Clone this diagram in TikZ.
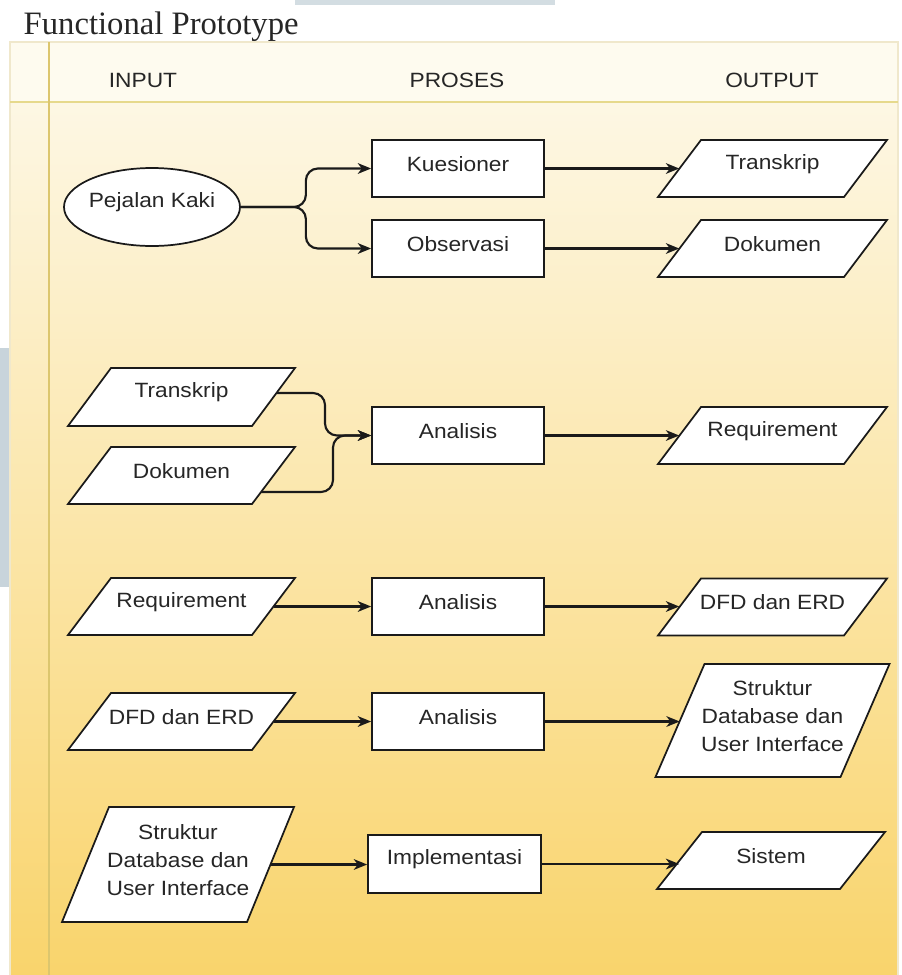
\documentclass[tikz,border=0pt]{standalone}
\usepackage{fontspec}
\setmainfont{Liberation Serif}
\newfontfamily\boxfam[FakeStretch=1.1]{Liberation Sans}
\usetikzlibrary{shapes.geometric,arrows.meta}
\definecolor{linec}{HTML}{1A1A1A}
\definecolor{txtc}{HTML}{262626}
\definecolor{hdrbg}{HTML}{FEFBEF}
\definecolor{bgtop}{HTML}{FDF7E4}
\definecolor{bgmid}{HTML}{FBE3A0}
\definecolor{bgbot}{HTML}{F9D46C}
\definecolor{sepc}{HTML}{E6D98C}
\definecolor{vlinec}{HTML}{DCC66E}
\definecolor{framec}{HTML}{F0E8CC}
\definecolor{scanblue}{HTML}{C8D4DB}
\newcommand\bfnt{\boxfam\fontsize{15.5pt}{21pt}\selectfont}
\newcommand\pgram[7]{%
  \draw[shapeline] ({#2-(#4+#6)/2},{#3+#5/2}) -- ({#2+(#4-#6)/2},{#3+#5/2}) -- ({#2+(#4+#6)/2},{#3-#5/2}) -- ({#2-(#4-#6)/2},{#3-#5/2}) -- cycle;
  \node[pgnode, minimum width=#4*0.75pt, minimum height=#5*0.75pt, label={[lbl]center:{#7}}] (#1) at (#2,#3) {};}
\begin{document}
\begin{tikzpicture}[x=0.75pt,y=-0.75pt,
  shapeline/.style={draw=linec, line width=1.3pt, fill=white},
  rectbox/.style={shapeline, rectangle, minimum width=172*0.75pt, minimum height=57*0.75pt, inner sep=0pt},
  pgnode/.style={rectangle, inner sep=0pt},
  lbl/.style={font=\bfnt, text=txtc, align=center, yshift=3.4pt},
  conn/.style={draw=linec, line width=1.6pt, -{Stealth[length=10pt,width=8pt,inset=3pt]}},
  hdr/.style={font=\bfnt, text=txtc, anchor=base}]
\useasboundingbox (0,0) rectangle (901,975);
% background
\fill[white] (0,0) rectangle (901,975);
\fill[scanblue] (0,348) rectangle (10,587);
\fill[scanblue!80!white] (295,0) rectangle (555,5);
\shade[top color=bgtop, middle color=bgmid, bottom color=bgbot] (10,102) rectangle (898,975);
\fill[hdrbg] (10,42) rectangle (898,102);
\draw[framec, line width=0.8pt] (10,975) -- (10,42) -- (898,42) -- (898,975);
\draw[sepc, line width=1.5pt] (10,102) -- (898,102);
\draw[vlinec, line width=1pt] (49,42) -- (49,975);
% title and headers
\node[anchor=base west, font=\fontsize{24.5pt}{28pt}\selectfont, text=black!85] (title) at (19,34) {Functional Prototype};
\node[hdr] (hin) at (143,87) {INPUT};
\node[hdr] (hpr) at (457,87) {PROSES};
\node[hdr] (hout) at (772,87) {OUTPUT};
% process nodes
\node[shapeline, ellipse, minimum width=176*0.75pt, minimum height=78*0.75pt, inner sep=0pt, label={[lbl]center:Pejalan Kaki}] (pk) at (152,207) {};
\node[rectbox, label={[lbl]center:Kuesioner}] (kue) at (458,168.5) {};
\node[rectbox, label={[lbl]center:Observasi}] (obs) at (458,248.5) {};
\node[rectbox, label={[lbl]center:Analisis}] (an1) at (458,435.5) {};
\node[rectbox, label={[lbl]center:Analisis}] (an2) at (458,606.5) {};
\node[rectbox, label={[lbl]center:Analisis}] (an3) at (458,721.5) {};
\node[rectbox, minimum width=173*0.75pt, minimum height=58*0.75pt, label={[lbl]center:Implementasi}] (imp) at (454.5,864) {};
% data nodes
\pgram{t1}{772.5}{168.5}{186}{57}{43}{Transkrip}
\pgram{d1}{772.5}{248.5}{186}{57}{43}{Dokumen}
\pgram{t2}{181.5}{397}{184}{58}{43}{Transkrip}
\pgram{d2}{181.5}{475.5}{184}{57}{43}{Dokumen}
\pgram{r1}{772.5}{435.5}{186}{57}{43}{Requirement}
\pgram{r2}{181.5}{606.5}{184}{57}{43}{Requirement}
\pgram{dfd1}{772.5}{607}{186}{57}{43}{DFD dan ERD}
\pgram{dfd2}{181.5}{721.5}{184}{57}{43}{DFD dan ERD}
\pgram{s1}{772.5}{720.5}{185}{113}{49}{Struktur\\Database dan\\User Interface}
\pgram{s2}{178}{864.5}{185}{115}{47}{Struktur\\Database dan\\User Interface}
\pgram{sis}{771}{860.5}{183}{57}{45}{Sistem}
% connectors
\draw[conn, rounded corners=9pt] (pk.east) -- ++(65,0) |- (kue.west);
\draw[conn, rounded corners=9pt] (pk.east) -- ++(65,0) |- (obs.west);
\draw[conn] (kue.east) -- (kue.east -| t1.west);
\draw[conn] (obs.east) -- (obs.east -| d1.west);
\coordinate (t2o) at (277,393);
\coordinate (d2o) at (261,492);
\draw[conn, rounded corners=9pt] (t2o) -- ++(48,0) |- (an1.west);
\draw[conn, rounded corners=9pt] (d2o) -- ++(72,0) |- (an1.west);
\draw[conn] (an1.east) -- (an1.east -| r1.west);
\draw[conn] (r2.east) -- (r2.east -| an2.west);
\draw[conn] (an2.east) -- (an2.east -| dfd1.west);
\draw[conn] (dfd2.east) -- (dfd2.east -| an3.west);
\draw[conn] (an3.east) -- (an3.east -| s1.west);
\draw[conn] (s2.east) -- (s2.east -| imp.west);
\draw[conn] (imp.east) -- (imp.east -| sis.west);
\end{tikzpicture}
\end{document}
